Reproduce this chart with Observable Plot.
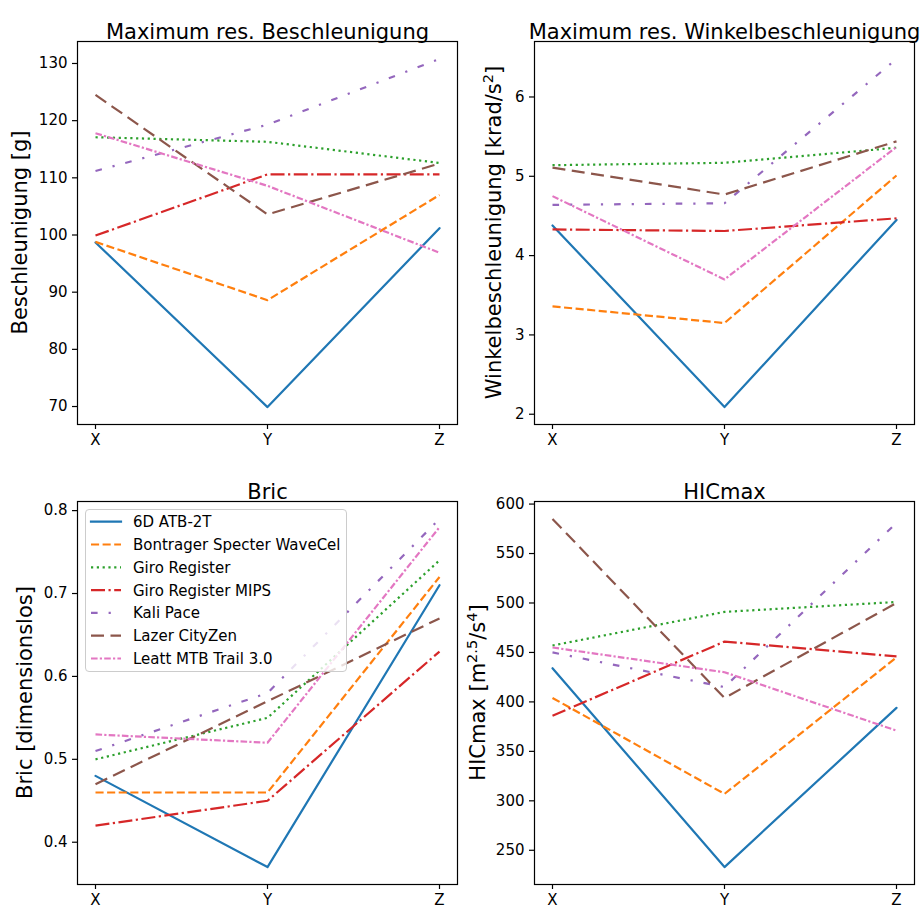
<!DOCTYPE html>
<html><head><meta charset="utf-8">
<script src="https://cdn.jsdelivr.net/npm/d3@7"></script>
<script src="https://cdn.jsdelivr.net/npm/@observablehq/plot@0.6"></script>
<style>
html,body{margin:0;padding:0;background:#fff;overflow:hidden;}
#root{position:relative;width:922px;height:913px;font-family:"DejaVu Sans",sans-serif;}
.panel{position:absolute;}
.panel svg{overflow:visible;}
#legend{position:absolute;box-sizing:border-box;background:rgba(255,255,255,0.8);border:1px solid #cccccc;border-radius:4px;}
</style></head><body><div id="root"></div>
<script>
// ---- data ----
const axesLabels = ["X", "Y", "Z"];
const helmets = ["6D ATB-2T", "Bontrager Specter WaveCel", "Giro Register", "Giro Register MIPS", "Kali Pace", "Lazer CityZen", "Leatt MTB Trail 3.0"];
const colors = ["#1f77b4", "#ff7f0e", "#2ca02c", "#d62728", "#9467bd", "#8c564b", "#e377c2"];
const dashes = [null, "8.1,3.5", "2.2,3.6", "14,3.5,2.2,3.5", "6.6,11,2.2,11", "13,6.5", "6.6,2.2,2.2,2.2"];

const beschleunigung = [[98.7, 69.9, 101.2], [98.8, 88.6, 107.0], [117.1, 116.3, 112.6], [99.9, 110.6, 110.6], [111.2, 119.3, 130.8], [124.5, 103.6, 112.5], [117.8, 108.6, 96.9]];
const winkelbeschleunigung = [[4.38, 2.09, 4.45], [3.36, 3.15, 5.01], [5.14, 5.17, 5.36], [4.33, 4.31, 4.47], [4.64, 4.66, 6.48], [5.11, 4.77, 5.44], [4.75, 3.70, 5.37]];
const bric = [[0.48, 0.37, 0.71], [0.46, 0.46, 0.72], [0.50, 0.55, 0.74], [0.42, 0.45, 0.63], [0.51, 0.58, 0.79], [0.47, 0.57, 0.67], [0.53, 0.52, 0.78]];
const hicmax = [[434, 233, 394], [404, 307, 445], [457, 491, 501], [386, 461, 446], [450, 415, 581], [585, 404, 500], [455, 430, 371]];

const ticksBeschl = [70, 80, 90, 100, 110, 120, 130];
const ticksWinkel = [2, 3, 4, 5, 6];
const ticksBric = [0.4, 0.5, 0.6, 0.7, 0.8];
const ticksHic = [250, 300, 350, 400, 450, 500, 550, 600];

const titles = ["Maximum res. Beschleunigung", "Maximum res. Winkelbeschleunigung", "Bric", "HICmax"];
const yLabels = [
  [{t: "Beschleunigung [g]"}],
  [{t: "Winkelbeschleunigung [krad/s"}, {t: "2", sup: true}, {t: "]"}],
  [{t: "Bric [dimensionslos]"}],
  [{t: "HICmax [m"}, {t: "2.5", sup: true}, {t: "/s"}, {t: "4", sup: true}, {t: "]"}]
];

// ---- drawing ----
const root = document.getElementById("root");
const LW = 2.2;

function panel(cfg) {
  const rows = [];
  cfg.data.forEach((vals, i) => vals.forEach((v, j) => rows.push({i, helmet: helmets[i], axis: axesLabels[j], value: v})));
  const [lo, hi] = d3.extent(rows, d => d.value);
  const pad = (hi - lo) * 0.05;
  const marks = [
    ...helmets.map((h, i) => Plot.line(rows.filter(r => r.i === i), {
      x: "axis", y: "value", stroke: colors[i], strokeWidth: LW,
      strokeDasharray: dashes[i] || undefined,
      strokeLinecap: dashes[i] ? "butt" : "round", strokeLinejoin: "round"
    })),
    Plot.frame({stroke: "black", strokeWidth: 1.2}),
    Plot.axisX({tickSize: 5, tickPadding: 5, fontSize: 15, label: null, stroke: "black", fill: "black", strokeWidth: 1.2}),
    Plot.axisY({ticks: cfg.ticks, tickFormat: d => `${d}`, tickSize: 5, tickPadding: 5, fontSize: 15, label: null, stroke: "black", fill: "black", strokeWidth: 1.2}),
    Plot.text([cfg.title], {frameAnchor: "top", dy: -17, fontSize: 21, fill: "black"})
  ];
  const svg = Plot.plot({
    width: 461, height: cfg.height,
    marginTop: cfg.mt, marginBottom: cfg.mb, marginLeft: cfg.ml, marginRight: cfg.mr,
    x: {type: "point", domain: axesLabels, padding: 0.1, align: 0.5},
    y: {domain: [lo - pad, hi + pad]},
    style: {fontFamily: "DejaVu Sans", color: "black", background: "white", overflow: "visible"},
    marks
  });
  const cy = cfg.mt + (cfg.height - cfg.mt - cfg.mb) / 2;
  const t = d3.select(svg).append("text")
    .attr("transform", `translate(${cfg.labelX},${cy}) rotate(-90)`)
    .attr("text-anchor", "middle").attr("font-size", 21).attr("fill", "black")
    .attr("font-family", "DejaVu Sans");
  let raised = false;
  cfg.label.forEach(p => {
    const ts = t.append("tspan").text(p.t);
    if (p.sup) { ts.attr("font-size", 14.5).attr("dy", raised ? 0 : -8); raised = true; }
    else if (raised) { ts.attr("dy", 8); raised = false; }
  });
  const div = document.createElement("div");
  div.className = "panel";
  div.style.left = cfg.left + "px";
  div.style.top = cfg.top + "px";
  div.appendChild(svg);
  root.appendChild(div);
}

panel({data: beschleunigung, ticks: ticksBeschl, title: titles[0], label: yLabels[0], left: 0, top: 0, height: 458, mt: 41, mb: 34, ml: 77, mr: 4, labelX: 27});
panel({data: winkelbeschleunigung, ticks: ticksWinkel, title: titles[1], label: yLabels[1], left: 461, top: 0, height: 458, mt: 41, mb: 34, ml: 73, mr: 8, labelX: 40});
panel({data: bric, ticks: ticksBric, title: titles[2], label: yLabels[2], left: 0, top: 458, height: 455, mt: 43, mb: 29, ml: 77, mr: 4, labelX: 32});
panel({data: hicmax, ticks: ticksHic, title: titles[3], label: yLabels[3], left: 461, top: 458, height: 455, mt: 43, mb: 29, ml: 73, mr: 8, labelX: 23.5});

// legend (in the Bric panel)
const leg = document.createElement("div");
leg.id = "legend";
leg.style.left = "85px"; leg.style.top = "509px"; leg.style.width = "262px"; leg.style.height = "163px";
root.appendChild(leg);
const ls = d3.select(leg).append("svg").attr("width", 262).attr("height", 163)
  .style("position", "absolute").style("left", "-1px").style("top", "-1px");
helmets.forEach((h, i) => {
  const y = 12.7 + 22.8 * i;
  ls.append("line").attr("x1", 6).attr("x2", 36).attr("y1", y).attr("y2", y)
    .attr("stroke", colors[i]).attr("stroke-width", LW)
    .attr("stroke-dasharray", dashes[i]).attr("stroke-linecap", dashes[i] ? "butt" : "square");
  ls.append("text").attr("x", 48).attr("y", y + 5.4).text(h)
    .attr("font-family", "DejaVu Sans").attr("font-size", 15).attr("fill", "black");
});
</script></body></html>
